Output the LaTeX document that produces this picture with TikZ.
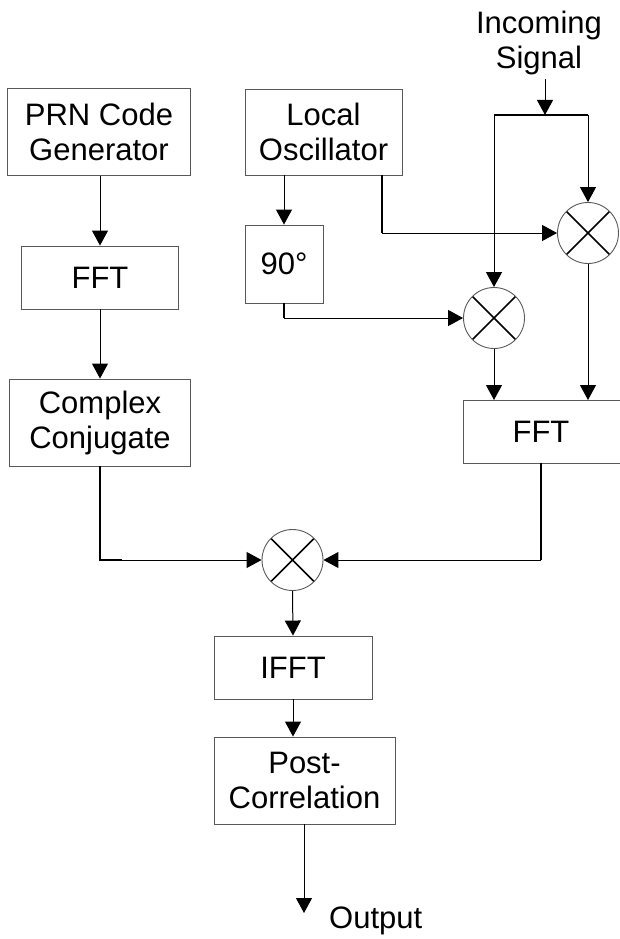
\documentclass[tikz,border=0pt]{standalone}
\usepackage{fontspec}
\setmainfont{Liberation Sans}
\usetikzlibrary{arrows.meta,calc}

\tikzset{
  blk/.style={draw=black!65, line width=0.9pt, rectangle, inner sep=0pt,
    align=center, font=\fontsize{31}{35}\selectfont},
  mixer/.style={draw=black!65, line width=0.9pt, circle, minimum size=61pt,
    inner sep=0pt, path picture={
      \draw[line width=1.6pt,black]
        (path picture bounding box.north west) -- (path picture bounding box.south east)
        (path picture bounding box.north east) -- (path picture bounding box.south west);}},
  lbl/.style={inner sep=0pt, align=center, font=\fontsize{31}{35}\selectfont},
  arr/.style={line width=1pt, -{Triangle[length=15pt,width=16pt]}},
  seg/.style={line width=1.8pt},
}

\begin{document}
\begin{tikzpicture}[x=1pt,y=-1pt]
  \useasboundingbox (0,0) rectangle (619,939);

  % left chain: code generator, FFT, conjugate
  \node[blk, minimum width=183pt, minimum height=87pt] (prn) at (99,132) {PRN Code\\Generator};
  \node[blk, minimum width=157pt, minimum height=63pt] (fft1) at (100,277.5) {FFT};
  \node[blk, minimum width=181pt, minimum height=87pt] (cc) at (100,422.5) {Complex\\Conjugate};

  % oscillator branch
  \node[blk, minimum width=157pt, minimum height=86pt] (lo) at (323.5,132) {Local\\Oscillator};
  \node[blk, minimum width=78pt, minimum height=78pt] (ninety) at (284,264) {90°};

  % incoming signal and the two mixers
  \node[lbl] (insig) at (539,43) {Incoming\\Signal};
  \coordinate (split) at (545,115);
  \node[mixer] (mixr) at (588,233) {};
  \node[mixer] (mixl) at (494,318) {};

  % second FFT (runs off the right edge)
  \node[blk, minimum width=162pt, minimum height=63pt, anchor=north west] (fft2) at (463,400) {};
  \node[lbl] at (541,431.5) {FFT};
  \coordinate (fftout) at (541,463);

  % central mixer and output chain
  \node[mixer] (mixc) at (292.5,560) {};
  \node[blk, minimum width=158pt, minimum height=63pt] (ifft) at (293,667.5) {IFFT};
  \node[blk, minimum width=181pt, minimum height=87pt] (post) at (304.5,780.5) {Post-\\Correlation};
  \coordinate (outend) at (304,913);
  \node[lbl, anchor=west] (outlbl) at (329,921) {Output};

  % left chain connectors
  \draw[arr] (prn.south -| fft1.north) -- (fft1.north);
  \draw[arr] (fft1.south) -- (cc.north);
  \draw[seg] (cc.south) -- (cc.south |- mixc.west) -- ++(22,0);
  \draw[arr] (cc.south |- mixc.west) -- (mixc.west);

  % oscillator connectors
  \draw[arr] (ninety.north |- lo.south) -- (ninety.north);
  \coordinate (lotap) at (382,175);
  \draw[line width=1.4pt] (lotap) -- (lotap |- mixr.west);
  \draw[arr] (lotap |- mixr.west) -- (mixr.west);
  \draw[seg] (ninety.south) -- (ninety.south |- mixl.west);
  \draw[arr] (ninety.south |- mixl.west) -- (mixl.west);

  % incoming signal split
  \draw[arr] (split |- insig.south) ++(0,4) -- (split);
  \draw[line width=2pt] (mixl.north |- split) -- (mixr.north |- split);
  \draw[arr] (mixl.north |- split) -- (mixl.north);
  \draw[arr] (mixr.north |- split) -- (mixr.north);

  % mixers into FFT
  \draw[arr] (mixl.south) -- (mixl.south |- fft2.north);
  \draw[arr] (mixr.south) -- (mixr.south |- fft2.north);

  % FFT into central mixer
  \draw[seg] (fftout) -- (fftout |- mixc.east);
  \draw[arr] (fftout |- mixc.east) -- (mixc.east);

  % output chain
  \draw[arr] (mixc.south) -- (ifft.north);
  \draw[arr] (ifft.south) -- (ifft.south |- post.north);
  \draw[arr] (post.south -| outend) -- (outend);
\end{tikzpicture}
\end{document}
